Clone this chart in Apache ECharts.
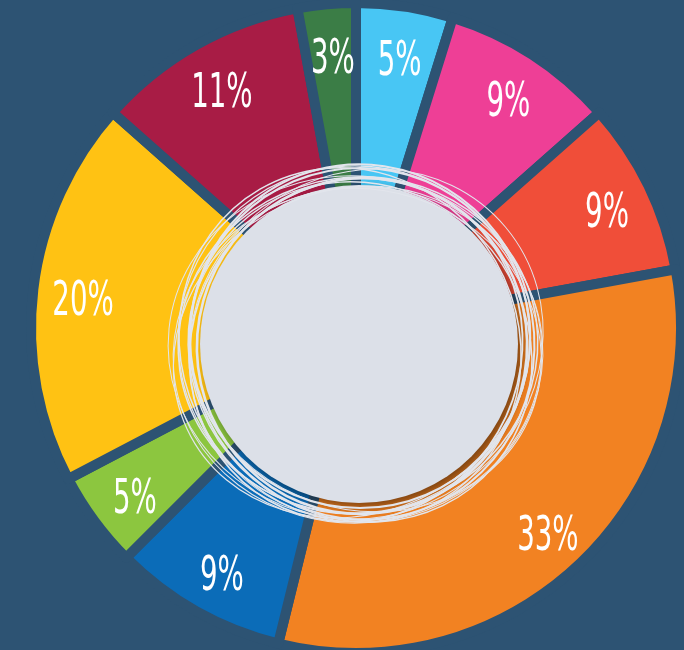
<!DOCTYPE html>
<html>
<head>
<meta charset="utf-8">
<script src="https://cdn.jsdelivr.net/npm/echarts@6/dist/echarts.min.js"></script>
<style>
html,body{margin:0;padding:0;background:#2d5373;}
#chart{width:684px;height:650px;}
</style>
</head>
<body>
<div id="chart"></div>
<script>
// Data (clockwise from 12 o'clock)
const categories = ['Segment 1','Segment 2','Segment 3','Segment 4','Segment 5','Segment 6','Segment 7','Segment 8','Segment 9'];
const values = [5, 9, 9, 33, 9, 5, 20, 11, 3];

// Styles
const palette = ['#48c6f4','#ee3f96','#f04e39','#f28222','#0b6cb8','#8cc63f','#ffc213','#a81c45','#3b7d46'];
const bg = '#2d5373';
const LABEL_SCALE_X = 0.64;

const pieData = categories.map((c, i) => ({ name: c, value: values[i], itemStyle: { color: palette[i] } }));

// decorative scribble rings around the centre disc
const scribbles = [
  [358, 345, 180, 168, 8, 1.5],
  [355, 348, 187, 172, -6, 1],
  [362, 342, 172, 178, 15, 2],
  [352, 352, 182, 162, 25, 1.2],
  [360, 338, 170, 170, 0, 2.2],
  [365, 350, 178, 160, -18, 1],
  [350, 345, 168, 180, 30, 1.5],
  [358, 355, 185, 168, 5, 1],
  [362, 346, 165, 168, -10, 2.6],
  [354, 340, 176, 174, 12, 1.2],
  [366, 344, 182, 170, 40, 1],
  [356, 350, 164, 174, -30, 1.8],
  [360, 352, 176, 166, -40, 1.4]
];

const graphics = [{
  type: 'circle',
  z: 100,
  shape: { cx: 359, cy: 344, r: 159 },
  style: { fill: '#dce0e8', shadowColor: 'rgba(0,0,0,0.5)', shadowBlur: 12, shadowOffsetX: 5, shadowOffsetY: 5 }
}].concat(scribbles.map(s => ({
  type: 'ellipse',
  z: 101,
  x: s[0], y: s[1],
  rotation: s[4] * Math.PI / 180,
  shape: { cx: 0, cy: 0, rx: s[2], ry: s[3] },
  style: { fill: 'none', stroke: '#e2e5ec', lineWidth: s[5] }
})));

const chart = echarts.init(document.getElementById('chart'), null, { renderer: 'canvas' });
chart.setOption({
  backgroundColor: bg,
  animation: false,
  graphic: graphics,
  series: [
    {
      type: 'pie',
      center: [356, 328],
      radius: [90, 325],
      startAngle: 90,
      clockwise: true,
      silent: true,
      label: { show: false },
      labelLine: { show: false },
      itemStyle: { borderColor: bg, borderWidth: 10 },
      data: pieData
    },
    {
      type: 'pie',
      center: [358, 336],
      radius: [228, 320],
      startAngle: 90,
      clockwise: true,
      silent: true,
      z: 5,
      avoidLabelOverlap: false,
      minShowLabelAngle: 0,
      labelLayout: { hideOverlap: false },
      itemStyle: { color: 'rgba(0,0,0,0)' },
      labelLine: { show: false },
      label: {
        show: true,
        position: 'inside',
        formatter: '{c}%',
        color: '#ffffff',
        fontSize: 48,
        fontWeight: 'normal',
        fontFamily: '"DejaVu Sans Condensed", "Liberation Sans Narrow", sans-serif'
      },
      data: values.map((v, i) => ({ name: categories[i], value: v }))
    }
  ]
});

// condense the label glyphs horizontally (the original uses a narrow display face)
function condenseLabels() {
  const zr = chart.getZr();
  const texts = new Set();
  zr.storage.getDisplayList(true).forEach(el => {
    let t = null;
    if (el.type === 'text') t = el;
    else if (el.parent && el.parent.type === 'text') t = el.parent;
    if (t && t.style && /%$/.test(String(t.style.text))) texts.add(t);
  });
  let changed = false;
  texts.forEach(t => {
    if (t.scaleX !== LABEL_SCALE_X) {
      t.scaleX = LABEL_SCALE_X;
      if (t.innerTransformable) t.innerTransformable.scaleX = LABEL_SCALE_X;
      if (t.__hostTarget) t.__hostTarget.markRedraw();
      t.markRedraw();
      changed = true;
    }
  });
  if (changed) zr.refreshImmediately();
}
condenseLabels();
chart.on('finished', condenseLabels);
setTimeout(condenseLabels, 50);
</script>
</body>
</html>
